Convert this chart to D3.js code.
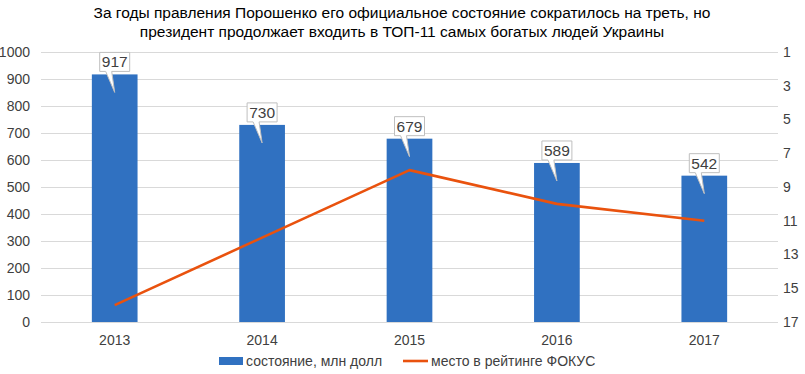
<!DOCTYPE html>
<html>
<head>
<meta charset="utf-8">
<script src="https://cdn.jsdelivr.net/npm/d3@7"></script>
<style>
  body { margin: 0; background: #fff; }
  svg { font-family: "Liberation Sans", Arial, sans-serif; }
</style>
</head>
<body>
<svg id="chart" width="805" height="374"></svg>
<script>
// data
const years = ['2013', '2014', '2015', '2016', '2017'];
const wealth = [917, 730, 679, 589, 542];        // состояние, млн долл
const rank = [16, 12, 8, 10, 11];                 // место в рейтинге ФОКУС
const leftTicks = [0, 100, 200, 300, 400, 500, 600, 700, 800, 900, 1000];
const rightTicks = [1, 3, 5, 7, 9, 11, 13, 15, 17];
const titleLines = [
    'За годы правления Порошенко его официальное состояние сократилось на треть, но',
    'президент продолжает входить в ТОП-11 самых богатых людей Украины'
];
const legendNames = ['состояние, млн долл', 'место в рейтинге ФОКУС'];

const colors = { bar: '#3071C1', line: '#E9520E', grid: '#D9D9D9', text: '#404040' };
const plot = { left: 41, right: 778, top: 52, bottom: 322 };
const tickFont = 14;

const svg = d3.select('#chart');

const x = d3.scaleBand()
    .domain(years)
    .range([plot.left, plot.right])
    .paddingInner(0.69)
    .paddingOuter(0.345);

const y = d3.scaleLinear().domain([0, 1000]).range([plot.bottom, plot.top]);
const y2 = d3.scaleLinear().domain([1, 17]).range([plot.top, plot.bottom]);

// title
svg.append('g').selectAll('text')
    .data(titleLines)
    .enter().append('text')
    .attr('x', 402)
    .attr('y', (d, i) => 18 + i * 19)
    .attr('text-anchor', 'middle')
    .attr('font-size', 15.5)
    .attr('fill', '#000')
    .text(d => d);

// gridlines
svg.append('g').selectAll('line')
    .data(leftTicks)
    .enter().append('line')
    .attr('x1', plot.left).attr('x2', plot.right)
    .attr('y1', d => y(d) + 0.5).attr('y2', d => y(d) + 0.5)
    .attr('stroke', colors.grid)
    .attr('stroke-width', 1);

function styleAxis(g) {
    g.select('.domain').remove();
    g.selectAll('text')
        .attr('font-size', tickFont)
        .attr('fill', colors.text)
        .attr('font-family', '"Liberation Sans", Arial, sans-serif');
}

// left axis
svg.append('g')
    .attr('transform', `translate(${plot.left},0)`)
    .call(d3.axisLeft(y).tickValues(leftTicks).tickFormat(d3.format('d')).tickSize(0).tickPadding(11))
    .call(styleAxis);

// right axis
svg.append('g')
    .attr('transform', `translate(${plot.right},0)`)
    .call(d3.axisRight(y2).tickValues(rightTicks).tickFormat(d3.format('d')).tickSize(0).tickPadding(5))
    .call(styleAxis);

// bottom axis labels
svg.append('g')
    .attr('transform', `translate(0,${plot.bottom})`)
    .call(d3.axisBottom(x).tickSize(0).tickPadding(13))
    .call(styleAxis);

// bars
svg.append('g').selectAll('rect')
    .data(wealth)
    .enter().append('rect')
    .attr('x', (d, i) => x(years[i]))
    .attr('y', d => y(d))
    .attr('width', x.bandwidth())
    .attr('height', d => plot.bottom - y(d))
    .attr('fill', colors.bar);

// rank line
const line = d3.line()
    .x((d, i) => x(years[i]) + x.bandwidth() / 2)
    .y(d => y2(d));

svg.append('path')
    .datum(rank)
    .attr('d', line)
    .attr('fill', 'none')
    .attr('stroke', colors.line)
    .attr('stroke-width', 2.6)
    .attr('stroke-linejoin', 'round');

// callout labels
const callouts = svg.append('g').selectAll('g')
    .data(wealth)
    .enter().append('g')
    .attr('transform', (d, i) => `translate(${x(years[i]) + x.bandwidth() / 2},${y(d)})`);

callouts.append('path')
    .attr('d', 'M-15,-22 H15 V-3 H-3 L0,18 L-9,-3 H-15 Z')
    .attr('fill', '#fff')
    .attr('stroke', '#BFBFBF')
    .attr('stroke-width', 1);

callouts.append('text')
    .attr('x', 0)
    .attr('y', -7)
    .attr('text-anchor', 'middle')
    .attr('font-size', 15.5)
    .attr('fill', colors.text)
    .text(d => d);

// legend
const legend = svg.append('g');
legend.append('rect')
    .attr('x', 219).attr('y', 357).attr('width', 24).attr('height', 8)
    .attr('fill', colors.bar);
legend.append('text')
    .attr('x', 246).attr('y', 366)
    .attr('font-size', tickFont).attr('fill', colors.text)
    .text(legendNames[0]);
legend.append('line')
    .attr('x1', 403).attr('x2', 428).attr('y1', 361).attr('y2', 361)
    .attr('stroke', colors.line).attr('stroke-width', 2.6);
legend.append('text')
    .attr('x', 431).attr('y', 366)
    .attr('font-size', tickFont).attr('fill', colors.text)
    .text(legendNames[1]);
</script>
</body>
</html>
